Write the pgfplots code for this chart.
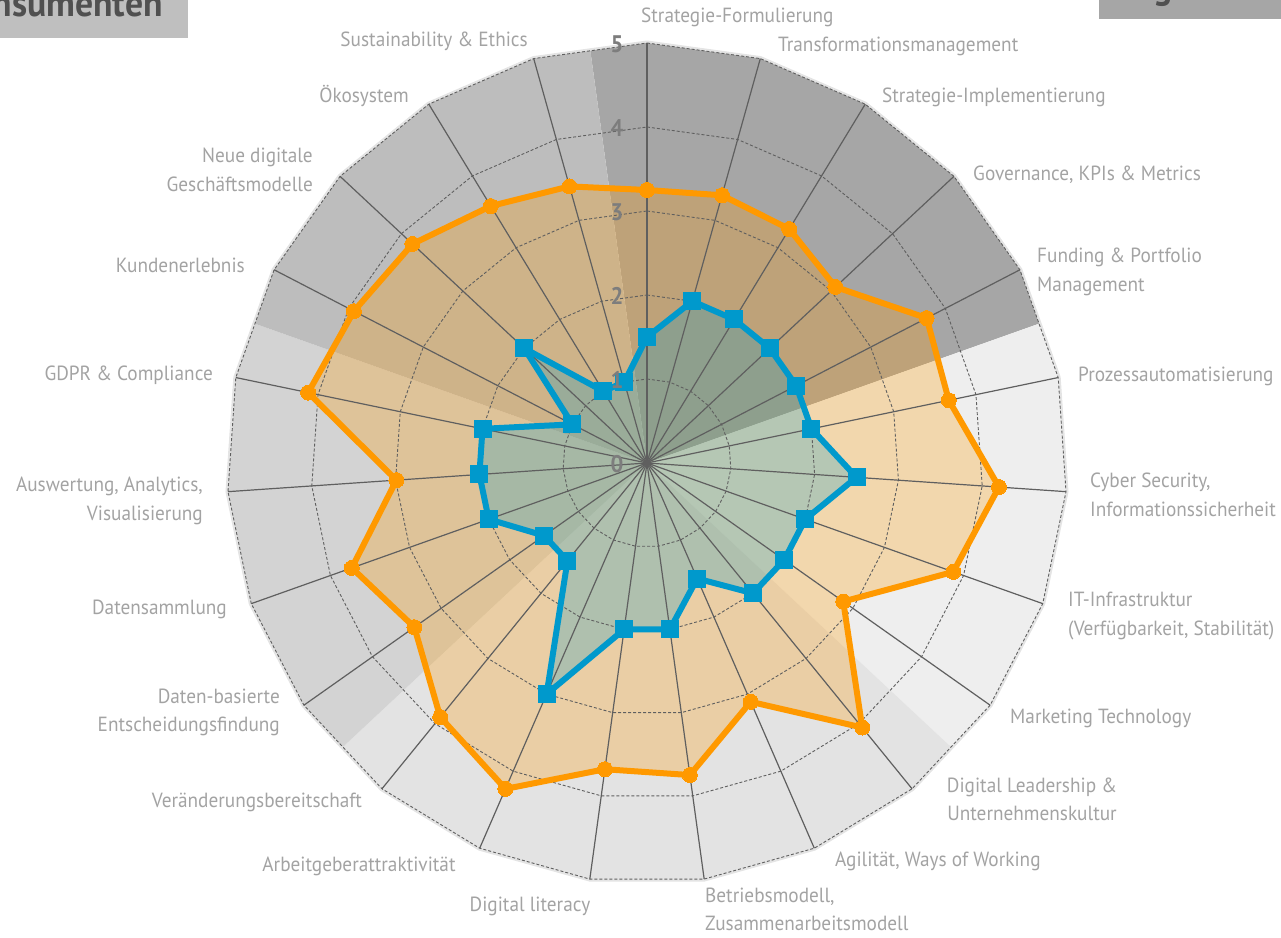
\documentclass[border=0pt]{standalone}
\usepackage{fontspec}
\setmainfont{PT Sans}[FakeStretch=0.94]
\usepackage{pgfplots}
\pgfplotsset{compat=1.18}
\usepackage{pgfplotstable}
\usepgfplotslibrary{polar}

\definecolor{sA}{RGB}{166,166,166}
\definecolor{sB}{RGB}{238,238,238}
\definecolor{sC}{RGB}{227,227,227}
\definecolor{sD}{RGB}{211,211,211}
\definecolor{sE}{RGB}{189,189,189}
\definecolor{ora}{RGB}{255,153,0}
\definecolor{blu}{RGB}{0,153,204}
\definecolor{lab}{RGB}{163,163,163}
\definecolor{tickc}{RGB}{125,125,125}
\definecolor{grd}{RGB}{95,95,95}
\definecolor{ttl}{RGB}{80,80,80}

\pgfplotstableread{
ang orange blue
90 3.25 1.5
74.348 3.31 2
58.696 3.26 2
43.043 3.07 2
27.391 3.75 2
11.739 3.67 2
-3.913 4.20 2.5
-19.565 3.87 2
-35.217 2.86 2
-50.870 4.06 2
-66.522 3.10 1.5
-82.174 3.75 2
-97.826 3.68 2
-113.478 4.23 3
-129.130 3.90 1.5
-144.783 3.39 1.5
-160.435 3.73 2
-176.087 2.99 2
-191.739 4.12 2
-207.391 3.93 1
-223.043 3.82 2
-238.696 3.58 1
-254.348 3.42 1
-270 3.25 1.5
}\data

\pgfplotsset{radar/.style={hide axis, x=84pt, y=84pt, xmin=-5.5, xmax=5.5, ymin=-5.5, ymax=5.5,
  anchor=origin, at={(0pt,0pt)}, clip=false, enlargelimits=false}}

\begin{document}
\begin{tikzpicture}
% faint outer shadow
\draw[line width=5pt, color={rgb,255:red,228;green,228;blue,228}, line join=round] (90:420pt) \foreach \k in {1,...,22}{ -- ({90-\k*360/23}:420pt)} -- cycle;
\begin{axis}[radar]
\addplot[data cs=polar, draw=none, fill=sA] coordinates {(0,0) (97.826,4.953) (90,5) (74.348,5) (58.696,5) (43.043,5) (27.391,5) (19.565,4.953) (0,0)};
\addplot[data cs=polar, draw=none, fill=sB] coordinates {(0,0) (19.565,4.953) (11.739,5) (-3.913,5) (-19.565,5) (-35.217,5) (-43.043,4.953) (0,0)};
\addplot[data cs=polar, draw=none, fill=sC] coordinates {(0,0) (-43.043,4.953) (-50.870,5) (-66.522,5) (-82.174,5) (-97.826,5) (-113.478,5) (-129.130,5) (-136.957,4.953) (0,0)};
\addplot[data cs=polar, draw=none, fill=sD] coordinates {(0,0) (-136.957,4.953) (-144.783,5) (-160.435,5) (-176.087,5) (-191.739,5) (-199.565,4.953) (0,0)};
\addplot[data cs=polar, draw=none, fill=sE] coordinates {(0,0) (-199.565,4.953) (-207.391,5) (-223.043,5) (-238.696,5) (-254.348,5) (-262.174,4.953) (0,0)};
\addplot[data cs=polar, draw=none, fill=ora, fill opacity=0.27] table[x=ang, y=orange] {\data};
\addplot[data cs=polar, draw=none, fill=blu, fill opacity=0.25] table[x=ang, y=blue] {\data};
\end{axis}
% grid
\foreach \k in {0,...,22} \draw[grd, line width=1.2pt] (0,0) -- ({90-\k*360/23}:420pt);
\foreach \r in {1,...,5} \draw[grd, line width=0.9pt, dash pattern=on 3pt off 2pt] (90:\r*84pt) \foreach \k in {1,...,22}{ -- ({90-\k*360/23}:\r*84pt)} -- cycle;
\begin{axis}[radar]
\addplot[data cs=polar, ora, line width=6pt, line join=round, mark=*, mark size=7.5pt, mark options={fill=ora, draw=ora, line width=0pt}] table[x=ang, y=orange] {\data};
\addplot[data cs=polar, blu, line width=6pt, line join=round, mark=square*, mark size=8.5pt, mark options={fill=blu, draw=blu, line width=0pt}] table[x=ang, y=blue] {\data};
\end{axis}
% tick labels
\foreach \r in {0,...,5} \node[font=\bfseries\fontsize{24}{24}\selectfont, text=tickc, inner sep=0pt] at (-30pt, {(84*\r-1)*1pt}) {\r};
% category labels (pixel coordinates)
\begin{scope}[x=1pt, y=-1pt, shift={(-647pt,463pt)}, every node/.style={font=\fontsize{20.5}{24}\selectfont, text=lab, inner sep=0pt}]
\node[anchor=base west] at (641,23) {Strategie-Formulierung};
\node[anchor=base west] at (778,52) {Transformationsmanagement};
\node[anchor=base west] at (882,103) {Strategie-Implementierung};
\node[anchor=base west] at (973,181) {Governance, KPIs \& Metrics};
\node[anchor=base west] at (1037,263) {Funding \& Portfolio};
\node[anchor=base west] at (1037,292) {Management};
\node[anchor=base west] at (1078,381) {Prozessautomatisierung};
\node[anchor=base west] at (1090,487) {Cyber Security,};
\node[anchor=base west] at (1090,516) {Informationssicherheit};
\node[anchor=base west] at (1068,606) {IT-Infrastruktur};
\node[anchor=base west] at (1068,635) {(Verfügbarkeit, Stabilität)};
\node[anchor=base west] at (1010,723) {Marketing Technology};
\node[anchor=base] at (1032,792) {Digital Leadership \&};
\node[anchor=base] at (1032,820) {Unternehmenskultur};
\node[anchor=base west] at (835,866) {Agilität, Ways of Working};
\node[anchor=base west] at (705,902) {Betriebsmodell,};
\node[anchor=base west] at (705,930) {Zusammenarbeitsmodell};
\node[anchor=base] at (530,911) {Digital literacy};
\node[anchor=base] at (359,871) {Arbeitgeberattraktivität};
\node[anchor=base east] at (362,807) {Veränderungsbereitschaft};
\node[anchor=base east] at (280,703) {Daten-basierte};
\node[anchor=base east] at (280,731) {Entscheidungsfindung};
\node[anchor=base east] at (227,614) {Datensammlung};
\node[anchor=base east] at (203,491) {Auswertung, Analytics,};
\node[anchor=base east] at (203,520) {Visualisierung};
\node[anchor=base east] at (213,380) {GDPR \& Compliance};
\node[anchor=base east] at (245,273) {Kundenerlebnis};
\node[anchor=base east] at (313,163) {Neue digitale};
\node[anchor=base east] at (313,192) {Geschäftsmodelle};
\node[anchor=base east] at (409,103) {Ökosystem};
\node[anchor=base east] at (528,47) {Sustainability \& Ethics};
% header boxes (cut by the page edge)
\fill[color={rgb,255:red,191;green,191;blue,191}] (-5,-5) rectangle (188,38);
\node[anchor=base east, font=\bfseries\fontsize{38}{38}\selectfont, text=ttl] at (163,17) {Konsumenten};
\fill[sA] (1099,-5) rectangle (1290,19);
\node[anchor=base west, font=\bfseries\fontsize{38}{38}\selectfont, text=ttl] at (1153,-1) {g};
\pgfresetboundingbox
\path[use as bounding box] (0,0) rectangle (1281,937);
\end{scope}
\end{tikzpicture}
\end{document}
